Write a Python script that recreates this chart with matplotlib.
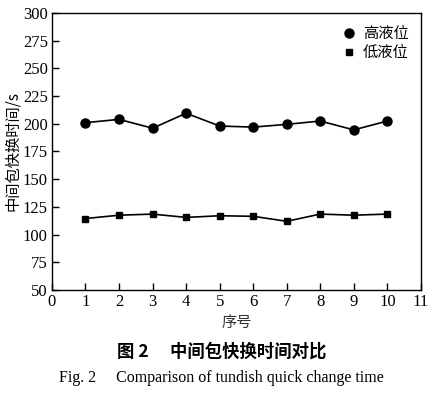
import matplotlib.pyplot as plt
from matplotlib.lines import Line2D

plt.rcParams['font.family'] = ['Liberation Serif', 'Noto Sans CJK SC']

runs = [1, 2, 3, 4, 5, 6, 7, 8, 9, 10]
high_level = [201, 204, 196, 209.5, 198, 197, 199.5, 202.5, 194.5, 202.5]
low_level = [114.5, 117.5, 118.5, 115.5, 117, 116.5, 112, 118.5, 117.5, 118.5]

fig = plt.figure(figsize=(4.33, 3.94), dpi=100)
ax = fig.add_axes([0.120, 0.264, 0.852, 0.703])

ax.plot(runs, high_level, color='black', lw=1.2, marker='o', ms=6.5)
ax.plot(runs, low_level, color='black', lw=1.2, marker='s', ms=4.5)

ax.set_xlim(0, 11)
ax.set_ylim(50, 300)
ax.set_xticks(range(0, 12))
ax.set_yticks(range(50, 301, 25))
ax.tick_params(direction='in', labelsize=12, length=5, width=1, pad=3, top=False, right=False)
for s in ax.spines.values():
    s.set_linewidth(1)

ax.set_xlabel('序号', fontsize=11, family=['Noto Sans CJK SC'], color='#333333', labelpad=3)
ax.set_ylabel('中间包快换时间/s', fontsize=11, family=['Noto Sans CJK SC', 'Liberation Serif'], labelpad=1)

handles = [Line2D([], [], color='black', marker='o', ls='none', ms=6.5),
           Line2D([], [], color='black', marker='s', ls='none', ms=4.5)]
ax.legend(handles, ['高液位', '低液位'], loc='upper right', frameon=False,
          prop={'family': 'Noto Sans CJK SC', 'size': 11}, handletextpad=0.3,
          labelspacing=0.15, borderaxespad=0.4, handlelength=1.2)

fig.text(0.512, 0.108, '图 2\u3000 中间包快换时间对比', ha='center', va='center',
         fontsize=12.5, fontweight='bold', family=['Noto Sans CJK SC'])
fig.text(0.512, 0.040, 'Fig. 2\u2003 Comparison of tundish quick change time', ha='center', va='center',
         fontsize=11.5, family=['Liberation Serif'])

fig.savefig('out.png', dpi=100)
